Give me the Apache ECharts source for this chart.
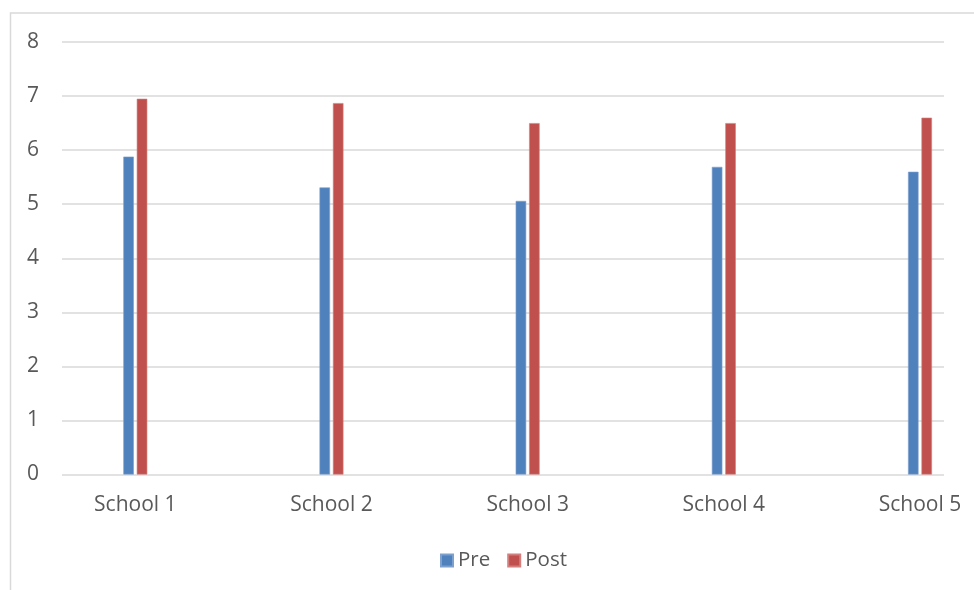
<!DOCTYPE html>
<html>
<head>
<meta charset="utf-8">
<script src="https://cdn.jsdelivr.net/npm/echarts@6/dist/echarts.min.js"></script>
<style>
  html, body { margin: 0; padding: 0; background: #fff; }
  #chart { width: 974px; height: 590px; }
</style>
</head>
<body>
<div id="chart"></div>
<script>
// Scores before and after, per school
const categories = ['School 1', 'School 2', 'School 3', 'School 4', 'School 5'];
const preScores = [5.88, 5.31, 5.06, 5.69, 5.60];
const postScores = [6.95, 6.87, 6.50, 6.50, 6.60];
const yTicks = { min: 0, max: 8, interval: 1 };

const textColor = '#595959';
const lineColor = '#d9d9d9';
const font = 'Open Sans';

const chart = echarts.init(document.getElementById('chart'), null, { renderer: 'canvas' });

chart.setOption({
  animation: false,
  backgroundColor: '#ffffff',
  graphic: [{
    type: 'polyline',
    shape: { points: [[10.5, 600], [10.5, 13], [980, 13]] },
    style: { stroke: lineColor, lineWidth: 1.5, fill: null },
    silent: true
  }],
  legend: {
    data: ['Pre', 'Post'],
    left: 435,
    top: 545,
    itemWidth: 12,
    itemHeight: 12,
    itemGap: 17,
    icon: 'rect',
    textStyle: { color: textColor, fontSize: 20.5, fontFamily: font }
  },
  grid: [
    // value scale and horizontal grid lines
    { left: 62, right: 30, top: 42, bottom: 115.5, containLabel: false },
    // category positions for the bars (first and last school at the edges)
    { left: 135.3, right: 54, top: 42, bottom: 115.5, containLabel: false }
  ],
  xAxis: [
    { gridIndex: 0, type: 'category', data: categories, show: false },
    {
      gridIndex: 1,
      type: 'category',
      data: categories,
      boundaryGap: false,
      axisLine: { show: false },
      axisTick: { show: false },
      axisLabel: { color: textColor, fontSize: 21, fontFamily: font, margin: 20 }
    }
  ],
  yAxis: [
    {
      gridIndex: 0,
      type: 'value',
      min: yTicks.min,
      max: yTicks.max,
      interval: yTicks.interval,
      axisLine: { show: false },
      axisTick: { show: false },
      axisLabel: { color: textColor, fontSize: 21, fontFamily: font, margin: 23 },
      splitLine: { lineStyle: { color: lineColor, width: 1.5 } }
    },
    {
      gridIndex: 1,
      type: 'value',
      min: yTicks.min,
      max: yTicks.max,
      interval: yTicks.interval,
      show: false,
      splitLine: { show: false }
    }
  ],
  series: [
    {
      name: 'Pre',
      type: 'bar',
      xAxisIndex: 1,
      yAxisIndex: 1,
      data: preScores,
      barWidth: 10.5,
      barGap: '28%',
      itemStyle: { color: '#4f81bd', borderColor: '#7ea0cd', borderWidth: 0.6 }
    },
    {
      name: 'Post',
      type: 'bar',
      xAxisIndex: 1,
      yAxisIndex: 1,
      data: postScores,
      barWidth: 10.5,
      barGap: '28%',
      itemStyle: { color: '#c0504d', borderColor: '#d27f7d', borderWidth: 0.6 }
    }
  ]
});
</script>
</body>
</html>
